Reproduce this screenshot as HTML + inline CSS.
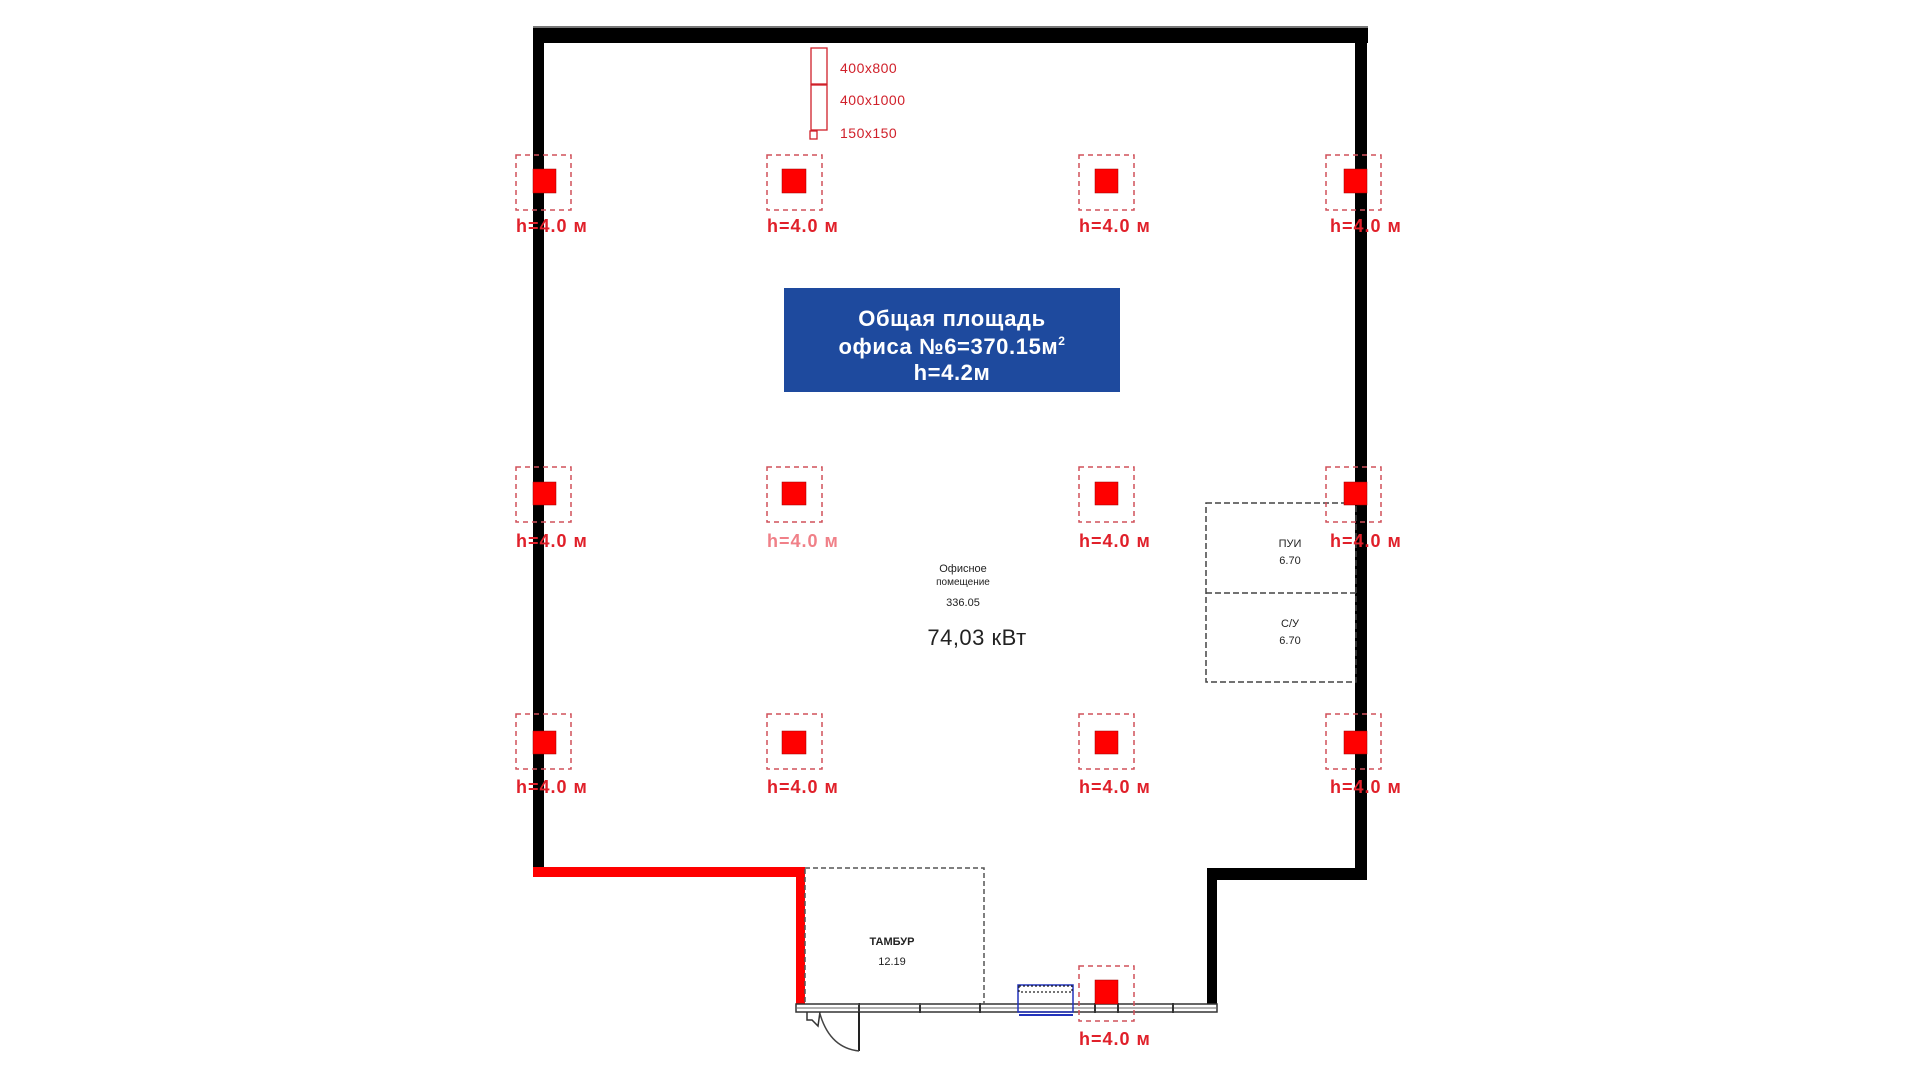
<!DOCTYPE html>
<html><head><meta charset="utf-8"><style>
html,body{margin:0;padding:0;background:#fff;width:1920px;height:1080px;overflow:hidden}
svg{display:block}
text{font-family:"Liberation Sans","DejaVu Sans",sans-serif}
</style></head><body>
<svg width="1920" height="1080" viewBox="0 0 1920 1080">
<!-- walls -->
<rect x="533" y="26" width="835" height="3" fill="#777"/>
<rect x="533" y="28" width="835" height="15" fill="#000"/>
<rect x="533" y="28" width="11" height="842" fill="#000"/>
<rect x="1355" y="28" width="12" height="852" fill="#000"/>
<rect x="1207" y="868" width="160" height="12" fill="#000"/>
<rect x="1207" y="868" width="10" height="138" fill="#000"/>
<!-- red walls -->
<rect x="533" y="867" width="272" height="10" fill="#f00"/>
<rect x="796" y="867" width="9" height="137" fill="#f00"/>
<!-- glazing -->
<rect x="796" y="1004" width="421" height="8" fill="#fff" stroke="#333" stroke-width="1.5"/>
<line x1="796" y1="1008" x2="1217" y2="1008" stroke="#666" stroke-width="1"/>
<g stroke="#333" stroke-width="2">
<line x1="859" y1="1003" x2="859" y2="1013"/><line x1="920" y1="1003" x2="920" y2="1013"/>
<line x1="980" y1="1003" x2="980" y2="1013"/><line x1="1095" y1="1003" x2="1095" y2="1013"/>
<line x1="1118" y1="1003" x2="1118" y2="1013"/><line x1="1173" y1="1003" x2="1173" y2="1013"/>
</g>
<!-- door -->
<path d="M807 1012 V1020 H812 L818 1026 L820 1012" fill="none" stroke="#333" stroke-width="1.5"/>
<line x1="859" y1="1012" x2="859" y2="1051" stroke="#222" stroke-width="2"/>
<path d="M820 1014 Q830 1048 859 1051" fill="none" stroke="#444" stroke-width="1.5"/>
<!-- tambur -->
<rect x="805" y="868" width="179" height="136" fill="none" stroke="#555" stroke-width="1.5" stroke-dasharray="5,3"/>
<text x="892" y="945" font-size="11" font-weight="bold" text-anchor="middle" fill="#222">ТАМБУР</text>
<text x="892" y="965" font-size="11" text-anchor="middle" fill="#222">12.19</text>
<!-- radiator -->
<rect x="1018" y="985" width="55" height="27" fill="none" stroke="#2233bb" stroke-width="1.5"/>
<rect x="1019" y="986" width="53" height="6" fill="#fff" stroke="#222" stroke-width="1.2" stroke-dasharray="2,2"/>
<line x1="1019" y1="1015" x2="1073" y2="1015" stroke="#2233bb" stroke-width="2"/>
<!-- PUI box -->
<rect x="1206" y="503" width="150" height="179" fill="none" stroke="#444" stroke-width="1.5" stroke-dasharray="6,3"/>
<line x1="1206" y1="593" x2="1356" y2="593" stroke="#444" stroke-width="1.5" stroke-dasharray="6,3"/>
<g font-size="11" fill="#222" text-anchor="middle">
<text x="1290" y="547">ПУИ</text><text x="1290" y="564">6.70</text>
<text x="1290" y="627">С/У</text><text x="1290" y="644">6.70</text>
</g>
<!-- legend -->
<g fill="none" stroke="#d0202a" stroke-width="1.3">
<rect x="811" y="48" width="16" height="36"/><rect x="811" y="85" width="16" height="45"/><rect x="810" y="131" width="7" height="8"/>
</g>
<g font-size="14" fill="#d0202a" letter-spacing="0.5"><text x="840" y="73">400x800</text><text x="840" y="105">400x1000</text><text x="840" y="138">150x150</text></g>
<!-- blue box -->
<rect x="784" y="288" width="336" height="104" fill="#1e4a9e"/>
<g fill="#fff" font-size="22" font-weight="bold" text-anchor="middle" letter-spacing="0.6">
<text x="952" y="326">Общая площадь</text>
<text x="952" y="354">офиса №6=370.15м<tspan font-size="12" dy="-9">2</tspan></text>
<text x="952" y="380">h=4.2м</text>
</g>
<!-- office labels -->
<g fill="#222" text-anchor="middle">
<text x="963" y="572" font-size="11">Офисное</text>
<text x="963" y="585" font-size="10">помещение</text>
<text x="963" y="606" font-size="11">336.05</text>
<text x="977" y="645" font-size="22" letter-spacing="0.5">74,03 кВт</text>
</g>
<!-- columns -->
<g id="cols">
<g fill="none" stroke="#d0505a" stroke-width="1.5" stroke-dasharray="5,4">
<rect x="516" y="155" width="55" height="55"/><rect x="767" y="155" width="55" height="55"/><rect x="1079" y="155" width="55" height="55"/><rect x="1326" y="155" width="55" height="55"/>
<rect x="516" y="467" width="55" height="55"/><rect x="767" y="467" width="55" height="55"/><rect x="1079" y="467" width="55" height="55"/><rect x="1326" y="467" width="55" height="55"/>
<rect x="516" y="714" width="55" height="55"/><rect x="767" y="714" width="55" height="55"/><rect x="1079" y="714" width="55" height="55"/><rect x="1326" y="714" width="55" height="55"/>
<rect x="1079" y="966" width="55" height="55"/>
</g>
<g fill="#f00" stroke="#900" stroke-width="0.5">
<rect x="533" y="169" width="23" height="24"/><rect x="782" y="169" width="24" height="24"/><rect x="1095" y="169" width="23" height="24"/><rect x="1344" y="169" width="23" height="24"/>
<rect x="533" y="482" width="23" height="23"/><rect x="782" y="482" width="24" height="23"/><rect x="1095" y="482" width="23" height="23"/><rect x="1344" y="482" width="23" height="23"/>
<rect x="533" y="731" width="23" height="23"/><rect x="782" y="731" width="24" height="23"/><rect x="1095" y="731" width="23" height="23"/><rect x="1344" y="731" width="23" height="23"/>
<rect x="1095" y="980" width="23" height="24"/>
</g>
<g fill="#e0202a" font-size="18" font-weight="bold" letter-spacing="1">
<text x="516" y="232">h=4.0 м</text><text x="767" y="232">h=4.0 м</text><text x="1079" y="232">h=4.0 м</text><text x="1330" y="232">h=4.0 м</text>
<text x="516" y="547">h=4.0 м</text><text x="767" y="547" fill="#f08088">h=4.0 м</text><text x="1079" y="547">h=4.0 м</text><text x="1330" y="547">h=4.0 м</text>
<text x="516" y="793">h=4.0 м</text><text x="767" y="793">h=4.0 м</text><text x="1079" y="793">h=4.0 м</text><text x="1330" y="793">h=4.0 м</text>
<text x="1079" y="1045">h=4.0 м</text>
</g>
</g>
</svg>
</body></html>
